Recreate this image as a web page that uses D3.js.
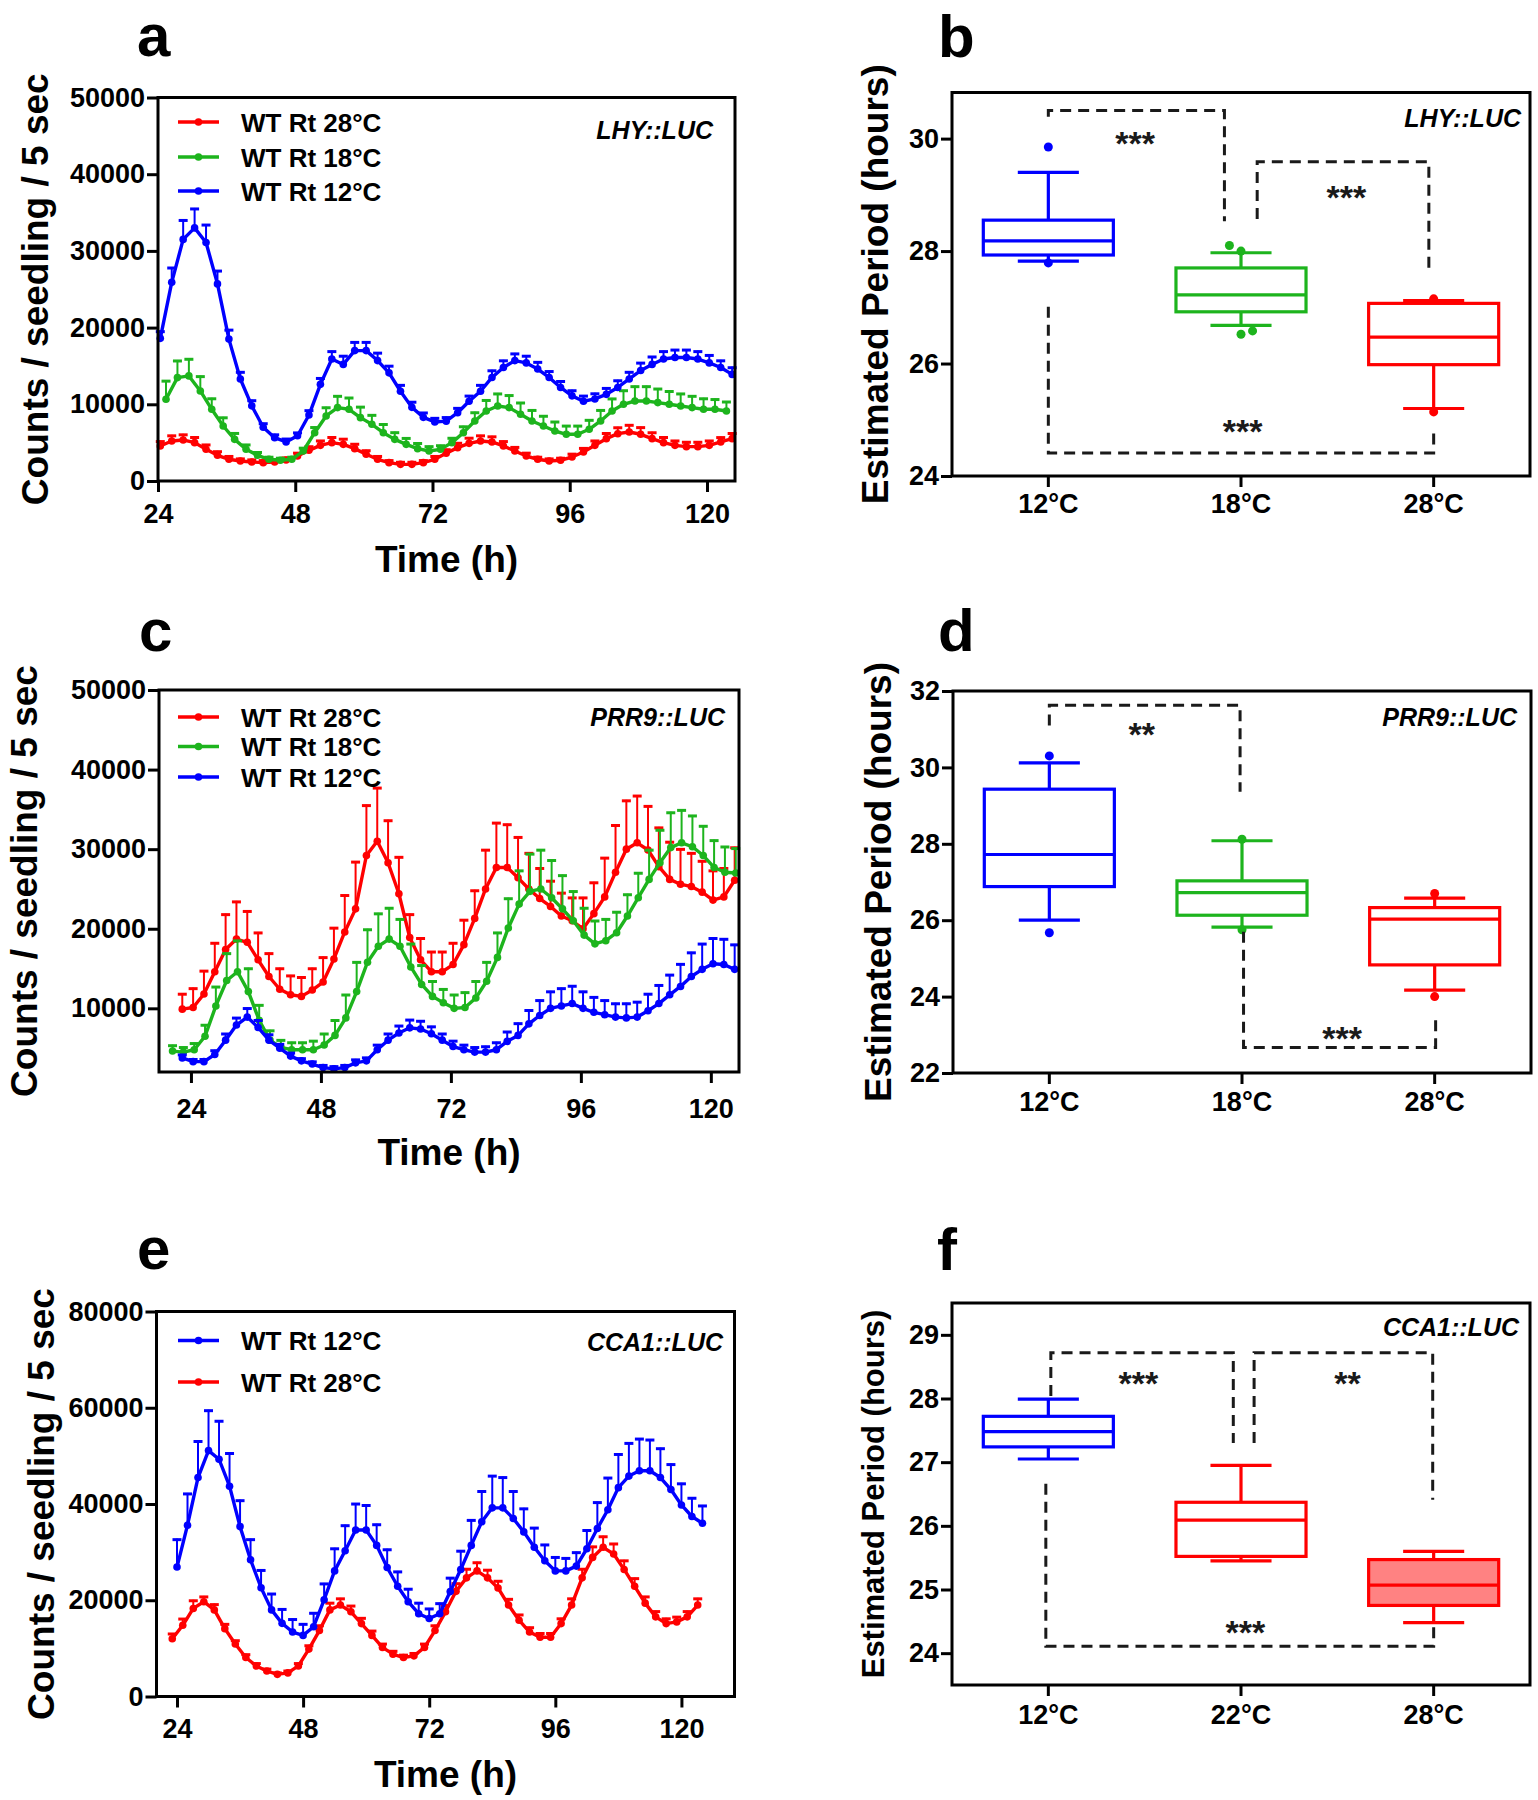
<!DOCTYPE html>
<html><head><meta charset="utf-8">
<script src="https://cdn.jsdelivr.net/npm/d3@7"></script>
<style>body{margin:0;background:#fff;} svg{display:block;}</style>
</head><body><script>
// ===================== DATA =====================
const timeTicks = [24, 48, 72, 96, 120];
const yTicksA = [0, 10000, 20000, 30000, 40000, 50000];
const yTicksC = [10000, 20000, 30000, 40000, 50000];
const yTicksE = [0, 20000, 40000, 60000, 80000];

// Panel a: LHY::LUC (sampled every 2 h, first time point given)
const aRedStart = 24.4;
const aRed = [4570,5220,5350,5000,4130,3350,2830,2610,2480,2390,2480,2740,3260,4000,4650,5000,4780,4220,3480,2830,2390,2170,2170,2390,2830,3610,4350,4910,5220,5090,4570,3910,3260,2830,2610,2700,3130,3780,4650,5520,6170,6390,6090,5520,5000,4650,4480,4480,4650,5090,5520];
const aRedErr = [700,800,800,800,700,600,500,400,400,400,400,400,500,600,700,800,800,700,600,500,400,400,400,400,500,600,700,800,800,800,700,600,500,400,400,400,500,600,700,800,900,1000,1000,900,800,700,700,700,700,700,800];
const aGreenStart = 25.4;
const aGreen = [10650,13480,13700,11740,9350,7170,5430,4130,3350,2830,2700,2830,3910,6300,8480,9570,9350,8260,7390,6300,5430,4780,4220,3910,4130,5000,6300,7830,9130,9780,9570,8700,7830,7170,6520,6090,6090,6740,7830,9130,10000,10430,10430,10220,10000,9780,9570,9350,9350,9130];
const aGreenErr = [2500,2300,2300,2000,1500,1200,900,700,500,400,400,400,500,800,1200,1600,1600,1500,1300,1200,1000,900,800,700,600,700,900,1200,1500,1700,1700,1600,1500,1400,1300,1200,1200,1300,1500,1700,1900,2000,2000,1900,1800,1700,1600,1500,1400,1300];
const aBlueStart = 24.4;
const aBlue = [18600,25900,31500,33000,31100,25700,18500,13300,9800,7000,5650,5100,5900,8600,12600,15900,15200,17000,17000,15700,14100,11700,9600,8300,7700,7800,8900,10400,11700,13500,14800,15700,15400,14600,13500,12200,11100,10400,10700,11300,12200,13300,14400,15200,15900,16100,16100,15900,15400,14800,13900];
const aBlueErr = [1000,2000,2600,2600,2400,1800,1300,1000,800,600,500,500,500,700,900,1100,1200,1200,1200,1100,1000,900,800,700,600,600,700,800,900,1000,1000,1000,1000,1000,900,900,800,800,800,900,1000,1000,1100,1100,1100,1100,1100,1100,1100,1000,1000];

// Panel c: PRR9::LUC
const cRedStart = 22.4;
const cRed = [9900,10100,11800,14600,17400,18700,18300,16100,14000,12400,11700,11500,12300,13300,16200,19600,22500,29200,31000,28300,24400,18900,16100,14600,14600,15500,18000,21300,25000,27700,27700,26400,25000,23800,22800,21600,21000,20000,21900,24000,27100,30000,30800,29900,27800,26200,25600,25300,24600,23600,24000,26100];
const cRedErr = [2000,2500,3000,3700,4500,4800,4000,3500,3000,2700,2500,2500,2800,3200,4000,4700,6000,6400,6800,5400,4700,3000,2800,2600,2600,2800,3200,3600,5000,5700,5500,5200,4600,3900,3300,3000,3000,4000,4000,5000,6000,6200,6000,5600,5000,4800,4500,4300,4000,3800,3700,4200];
const cGreenStart = 20.6;
const cGreen = [4630,4500,4800,6500,10300,13500,14600,12100,8500,6000,5100,4800,4800,4800,5400,6600,8800,12100,15800,17800,18700,17800,15200,13000,11500,10700,10000,10100,11300,13400,16400,20100,23100,24700,25000,23900,22500,21000,19200,18100,18500,19500,21600,23900,26200,28300,30200,30800,30300,29200,27700,27100,27000];
const cGreenErr = [800,700,900,1500,2500,3500,4000,3000,2000,1300,1000,1000,1000,1200,1500,2000,3000,3800,4200,4200,4000,3500,3000,2500,2000,1800,1800,2000,2200,2500,3200,3800,4300,4800,5000,4800,4300,3800,3500,3000,2800,2700,2800,3200,3800,4200,4500,4200,4000,3800,3500,3300,3200];
const cBlueStart = 22.4;
const cBlue = [3770,3300,3300,4200,6000,7900,8900,7600,6000,5000,4000,3400,3000,2550,2400,2550,3150,3400,4800,6000,6900,7550,7400,6800,6000,5200,4800,4500,4500,4800,5850,6600,8050,9100,10000,10300,10600,10000,9500,9200,8900,8800,8900,9700,10600,11700,12750,14000,14900,15600,15500,14900];
const cBlueErr = [500,400,400,600,900,1000,1200,1000,800,600,500,400,400,400,400,400,500,500,700,900,1000,1100,1100,1000,900,800,700,700,800,1000,1300,1600,1800,2000,2200,2300,2300,2200,2000,1900,1800,1900,2000,2200,2400,2600,2900,3100,3300,3300,3300,3200];

// Panel e: CCA1::LUC
const eBlueStart = 24.0;
const eBlue = [26900,35600,45500,51100,49300,43700,35300,28400,22600,18000,15200,13400,12700,14500,20100,26100,30300,34600,34600,31400,26800,22900,19700,17200,16200,17200,21800,26400,31400,36300,39200,39200,37000,34200,31000,28200,26100,26100,27100,30700,34900,38800,43400,45800,46900,46900,45500,43000,39800,37400,36000];
const eBlueErr = [5900,6700,7700,8500,8100,7000,5600,4400,3800,3500,3100,2800,2500,3000,3500,4800,5400,5600,5300,4500,3900,3200,2800,2400,2200,2300,3000,4000,5400,6500,6800,6500,5800,5000,4200,3500,3000,2800,3000,4000,5600,6800,7100,7000,6800,6600,6200,5400,4600,4000,3800];
const eRedStart = 23.1;
const eRed = [12000,14800,18300,19700,18000,14100,10900,8100,6350,5300,4600,4900,6350,9850,13700,18000,19000,17600,15150,12700,10200,8800,8100,8450,10200,13700,17600,21850,24650,26100,24650,22550,19000,15850,13400,12300,12300,15150,19000,24650,28900,31000,29600,26400,22900,19400,16550,15150,15500,16550,19000];
const eRedErr = [1200,1500,1800,1200,1300,1100,900,800,700,600,500,600,700,900,1200,1600,1500,1400,1300,1100,900,800,700,700,900,1200,1500,1800,2000,1900,1800,1600,1400,1300,1100,1000,1000,1200,1500,2000,2400,2400,2300,2000,1800,1500,1300,1200,1200,1300,1500];

// Box plots: [lower whisker, Q1, median, Q3, upper whisker]
const bCats = ["12", "18", "28"];
const bYTicks = [24, 26, 28, 30];
const bBox12 = [27.82, 27.93, 28.18, 28.55, 29.40];
const bBox18 = [26.68, 26.92, 27.22, 27.70, 27.97];
const bBox28 = [25.20, 25.98, 26.47, 27.07, 27.12];
const bOut12 = [[29.85, 0], [27.79, 0]];
const bOut18 = [[28.10, -0.06], [28.00, 0], [26.52, 0], [26.58, 0.06]];
const bOut28 = [[25.14, 0], [27.15, 0]];
// brackets: [cat from, cat to, y start, y corner, y end]; stars: [label, cat pos, y]
const bBrackets = [[0, 0.914, 30.39, 30.50, 28.53], [1.084, 1.975, 28.57, 29.59, 27.58], [0, 2.0, 27.01, 24.41, 24.80]];
const bStars = [["***", 0.45, 30.04], ["***", 1.547, 29.09], ["***", 1.008, 24.93]];

const dCats = ["12", "18", "28"];
const dYTicks = [22, 24, 26, 28, 30, 32];
const dBox12 = [26.00, 26.88, 27.72, 29.43, 30.12];
const dBox18 = [25.82, 26.13, 26.72, 27.03, 28.08];
const dBox28 = [24.17, 24.83, 26.03, 26.33, 26.58];
const dOut12 = [[30.30, 0], [25.67, 0]];
const dOut18 = [[28.12, 0], [25.75, 0]];
const dOut28 = [[26.70, 0], [24.00, 0]];
const dBrackets = [[0, 0.99, 31.10, 31.63, 29.36], [1.008, 2.005, 25.70, 22.67, 23.55]];
const dStars = [["**", 0.48, 31.05], ["***", 1.52, 23.10]];

const fCats = ["12", "22", "28"];
const fYTicks = [24, 25, 26, 27, 28, 29];
const fBox12 = [27.05, 27.24, 27.48, 27.72, 27.99];
const fBox22 = [25.45, 25.52, 26.09, 26.37, 26.95];
const fBox28 = [24.48, 24.75, 25.07, 25.47, 25.60];
const fBrackets = [[0.013, 0.96, 28.04, 28.72, 27.30], [1.068, 1.995, 27.30, 28.72, 26.41], [-0.013, 2.0, 26.66, 24.11, 24.45]];
const fStars = [["***", 0.467, 28.35], ["**", 1.553, 28.35], ["***", 1.023, 24.45]];

// ===================== DRAWING =====================
const FONT = '"Liberation Sans", Arial, Helvetica, sans-serif';
const RED = '#ff0000', GREEN = '#1db41d', BLUE = '#0000ff', FILLRED = '#ff8282';

const svg = d3.select('body').append('svg')
  .attr('width', 1538).attr('height', 1800)
  .style('font-family', FONT);
svg.append('rect').attr('width', 1538).attr('height', 1800).attr('fill', '#fff');

function styleAxis(ax, fs) {
  ax.select('.domain').remove();
  ax.selectAll('.tick line').attr('stroke', '#000').attr('stroke-width', 3);
  ax.selectAll('.tick text').attr('fill', '#000').attr('font-size', fs).attr('font-weight', 'bold').attr('font-family', FONT);
}

function panelLetter(txt, x, y) {
  svg.append('text').attr('x', x).attr('y', y).text(txt)
    .attr('font-size', 60).attr('font-weight', 'bold').attr('fill', '#000');
}

function yTitle(txt, cx, cy, fs) {
  svg.append('text').attr('transform', `translate(${cx + 0.36 * fs},${cy}) rotate(-90)`)
    .attr('text-anchor', 'middle').attr('font-size', fs).attr('font-weight', 'bold').attr('fill', '#000').text(txt);
}

function linePanel(o) {
  const x = d3.scaleLinear().domain(o.xDomain).range([o.L, o.R]);
  const y = d3.scaleLinear().domain(o.yDomain).range([o.B, o.T]);
  const g = svg.append('g');
  o.series.forEach(s => {
    const pts = s.values.map((v, i) => ({ t: s.t0 + 2 * i, v: v, e: s.errs[i] }));
    const sg = g.append('g');
    sg.selectAll('line.eb').data(pts).join('line').attr('class', 'eb')
      .attr('x1', d => x(d.t)).attr('x2', d => x(d.t))
      .attr('y1', d => y(d.v)).attr('y2', d => y(d.v + d.e))
      .attr('stroke', s.color).attr('stroke-width', 2);
    sg.selectAll('line.cap').data(pts).join('line').attr('class', 'cap')
      .attr('x1', d => x(d.t) - 4.5).attr('x2', d => x(d.t) + 4.5)
      .attr('y1', d => y(d.v + d.e) + 1).attr('y2', d => y(d.v + d.e) + 1)
      .attr('stroke', s.color).attr('stroke-width', 3);
    sg.append('path').datum(pts)
      .attr('d', d3.line().x(d => x(d.t)).y(d => y(d.v)))
      .attr('fill', 'none').attr('stroke', s.color).attr('stroke-width', 3.4).attr('stroke-linejoin', 'round');
    sg.selectAll('circle').data(pts).join('circle')
      .attr('cx', d => x(d.t)).attr('cy', d => y(d.v)).attr('r', 3.8).attr('fill', s.color);
  });
  g.append('rect').attr('x', o.L).attr('y', o.T).attr('width', o.R - o.L).attr('height', o.B - o.T)
    .attr('fill', 'none').attr('stroke', '#000').attr('stroke-width', 3);
  const ya = g.append('g').attr('transform', `translate(${o.L},0)`)
    .call(d3.axisLeft(y).tickValues(o.yTicks).tickSize(11).tickPadding(2).tickFormat(d3.format('d')));
  styleAxis(ya, 27);
  const xa = g.append('g').attr('transform', `translate(0,${o.B})`)
    .call(d3.axisBottom(x).tickValues(timeTicks).tickSize(11).tickPadding(o.xPad).tickFormat(d3.format('d')));
  styleAxis(xa, 27);
  yTitle('Counts / seedling / 5 sec', o.yTitleX, (o.T + o.B) / 2, 37);
  g.append('text').attr('x', (o.L + o.R) / 2).attr('y', o.xTitleY).attr('text-anchor', 'middle')
    .attr('font-size', 37).attr('font-weight', 'bold').attr('fill', '#000').text('Time (h)');
  o.legend.forEach((l, i) => {
    const cy = o.legRows[i];
    g.append('line').attr('x1', 178).attr('x2', 219).attr('y1', cy).attr('y2', cy)
      .attr('stroke', l.color).attr('stroke-width', 3.4);
    g.append('circle').attr('cx', 198.5).attr('cy', cy).attr('r', 3.8).attr('fill', l.color);
    g.append('text').attr('x', 241).attr('y', cy + 9.5).attr('font-size', 26).attr('font-weight', 'bold')
      .attr('fill', '#000').text('WT Rt ' + l.temp + '°C');
  });
  g.append('text').attr('x', o.geneX).attr('y', o.geneY).attr('text-anchor', 'end')
    .attr('font-size', 25).attr('font-weight', 'bold').attr('font-style', 'italic').attr('fill', '#000').text(o.gene);
}

function boxPanel(o) {
  const x = d3.scaleBand().domain(o.cats).range([o.L, o.R]).padding(0);
  const y = d3.scaleLinear().domain(o.yDomain).range([o.B, o.T]);
  const step = x.bandwidth();
  const pos = f => o.L + (f + 0.5) * step;
  const g = svg.append('g');
  const bw = 0.675 * step, cw = 0.317 * step;
  o.boxes.forEach((b, i) => {
    const cx = x(o.cats[i]) + step / 2;
    const [lo, q1, med, q3, hi] = b.stats;
    const bg = g.append('g').attr('stroke', b.color).attr('stroke-width', 3.2);
    bg.append('line').attr('x1', cx).attr('x2', cx).attr('y1', y(lo)).attr('y2', y(q1));
    bg.append('line').attr('x1', cx).attr('x2', cx).attr('y1', y(q3)).attr('y2', y(hi));
    bg.append('line').attr('x1', cx - cw / 2).attr('x2', cx + cw / 2).attr('y1', y(lo)).attr('y2', y(lo));
    bg.append('line').attr('x1', cx - cw / 2).attr('x2', cx + cw / 2).attr('y1', y(hi)).attr('y2', y(hi));
    bg.append('rect').attr('x', cx - bw / 2).attr('y', y(q3)).attr('width', bw).attr('height', y(q1) - y(q3))
      .attr('fill', b.fill || 'none');
    bg.append('line').attr('x1', cx - bw / 2).attr('x2', cx + bw / 2).attr('y1', y(med)).attr('y2', y(med));
    (b.out || []).forEach(p => {
      g.append('circle').attr('cx', cx + p[1] * step).attr('cy', y(p[0])).attr('r', 4.5).attr('fill', b.color);
    });
  });
  o.brackets.forEach(br => {
    const [f1, f2, y1, yc, y2] = br;
    const pts = [[pos(f1), y(y1)], [pos(f1), y(yc)], [pos(f2), y(yc)], [pos(f2), y(y2)]];
    g.append('path').attr('d', d3.line()(pts)).attr('fill', 'none')
      .attr('stroke', '#1a1a1a').attr('stroke-width', 3).attr('stroke-dasharray', '11,7');
  });
  o.stars.forEach(s => {
    g.append('text').attr('x', pos(s[1])).attr('y', y(s[2]) + 19).attr('text-anchor', 'middle')
      .attr('font-size', 34).attr('font-weight', 'bold').attr('fill', '#1a1a1a').text(s[0]);
  });
  g.append('rect').attr('x', o.L).attr('y', o.T).attr('width', o.R - o.L).attr('height', o.B - o.T)
    .attr('fill', 'none').attr('stroke', '#000').attr('stroke-width', 3);
  const ya = g.append('g').attr('transform', `translate(${o.L},0)`)
    .call(d3.axisLeft(y).tickValues(o.yTicks).tickSize(11).tickPadding(2).tickFormat(d3.format('d')));
  styleAxis(ya, 27);
  const xa = g.append('g').attr('transform', `translate(0,${o.B})`)
    .call(d3.axisBottom(x).tickSize(11).tickPadding(o.xPad).tickFormat(d => d + '°C'));
  styleAxis(xa, 27);
  yTitle('Estimated Period (hours)', o.yTitleX, (o.T + o.B) / 2, o.yTitleFs);
  g.append('text').attr('x', o.geneX).attr('y', o.geneY).attr('text-anchor', 'end')
    .attr('font-size', 25).attr('font-weight', 'bold').attr('font-style', 'italic').attr('fill', '#000').text(o.gene);
}

// ----- panel a -----
panelLetter('a', 137, 56);
linePanel({
  L: 158, T: 97.5, R: 735, B: 481, xDomain: [24, 124.9], yDomain: [0, 50000], yTicks: yTicksA, xPad: 12,
  series: [
    { t0: aRedStart, values: aRed, errs: aRedErr, color: RED },
    { t0: aGreenStart, values: aGreen, errs: aGreenErr, color: GREEN },
    { t0: aBlueStart, values: aBlue, errs: aBlueErr, color: BLUE }
  ],
  legend: [{ temp: 28, color: RED }, { temp: 18, color: GREEN }, { temp: 12, color: BLUE }],
  legRows: [122, 157, 191], gene: 'LHY::LUC', geneX: 713, geneY: 139,
  yTitleX: 35, xTitleY: 572
});

// ----- panel c -----
panelLetter('c', 139, 651);
linePanel({
  L: 159, T: 690, R: 739, B: 1072, xDomain: [18.1, 125.2], yDomain: [2000, 50000], yTicks: yTicksC, xPad: 16,
  series: [
    { t0: cRedStart, values: cRed, errs: cRedErr, color: RED },
    { t0: cGreenStart, values: cGreen, errs: cGreenErr, color: GREEN },
    { t0: cBlueStart, values: cBlue, errs: cBlueErr, color: BLUE }
  ],
  legend: [{ temp: 28, color: RED }, { temp: 18, color: GREEN }, { temp: 12, color: BLUE }],
  legRows: [717, 746.5, 777], gene: 'PRR9::LUC', geneX: 725, geneY: 726,
  yTitleX: 24, xTitleY: 1165
});

// ----- panel e -----
panelLetter('e', 137, 1269);
linePanel({
  L: 156.5, T: 1311.5, R: 734.5, B: 1696.5, xDomain: [20.1, 130.1], yDomain: [0, 80000], yTicks: yTicksE, xPad: 11,
  series: [
    { t0: eRedStart, values: eRed, errs: eRedErr, color: RED },
    { t0: eBlueStart, values: eBlue, errs: eBlueErr, color: BLUE }
  ],
  legend: [{ temp: 12, color: BLUE }, { temp: 28, color: RED }],
  legRows: [1340.5, 1382], gene: 'CCA1::LUC', geneX: 723, geneY: 1351,
  yTitleX: 41, xTitleY: 1787
});

// ----- panel b -----
panelLetter('b', 938, 57);
boxPanel({
  L: 952, T: 92.5, R: 1530, B: 476, yDomain: [24, 30.82], yTicks: bYTicks, cats: bCats, xPad: 7,
  boxes: [
    { stats: bBox12, color: BLUE, out: bOut12 },
    { stats: bBox18, color: GREEN, out: bOut18 },
    { stats: bBox28, color: RED, out: bOut28 }
  ],
  brackets: bBrackets, stars: bStars, gene: 'LHY::LUC', geneX: 1521, geneY: 127,
  yTitleX: 875, yTitleFs: 37
});

// ----- panel d -----
panelLetter('d', 938, 651);
boxPanel({
  L: 953, T: 691, R: 1531, B: 1073, yDomain: [22, 32], yTicks: dYTicks, cats: dCats, xPad: 8,
  boxes: [
    { stats: dBox12, color: BLUE, out: dOut12 },
    { stats: dBox18, color: GREEN, out: dOut18 },
    { stats: dBox28, color: RED, out: dOut28 }
  ],
  brackets: dBrackets, stars: dStars, gene: 'PRR9::LUC', geneX: 1517, geneY: 726,
  yTitleX: 878, yTitleFs: 37
});

// ----- panel f -----
panelLetter('f', 937, 1270);
boxPanel({
  L: 952, T: 1303, R: 1530, B: 1685, yDomain: [23.5, 29.5], yTicks: fYTicks, cats: fCats, xPad: 9,
  boxes: [
    { stats: fBox12, color: BLUE },
    { stats: fBox22, color: RED },
    { stats: fBox28, color: RED, fill: FILLRED }
  ],
  brackets: fBrackets, stars: fStars, gene: 'CCA1::LUC', geneX: 1519, geneY: 1336,
  yTitleX: 873, yTitleFs: 31
});
</script></body></html>
